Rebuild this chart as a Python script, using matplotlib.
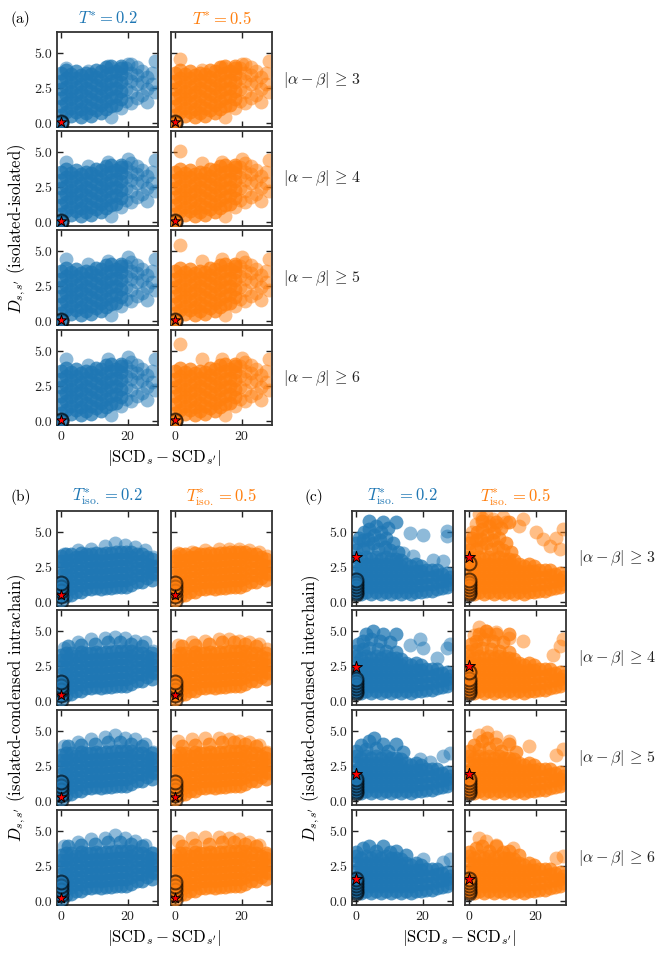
import matplotlib
matplotlib.use("Agg")
import matplotlib.pyplot as plt

plt.rcParams["font.family"] = "serif"
plt.rcParams["font.serif"] = ["cmr10", "DejaVu Serif"]
plt.rcParams["mathtext.fontset"] = "cm"
plt.rcParams["axes.formatter.use_mathtext"] = True

temps = ["0.2", "0.5"]
colors = ["#1f77b4", "#ff7f0e"]
thresholds = [3, 4, 5, 6]

# (a) isolated-isolated: bulk of the cloud, shared by all rows
a_x = [
    0, 0, 0, 0, 0, 0,
    1.5, 1.5, 1.5, 1.5, 1.5, 1.5,
    3, 3, 3, 3, 3, 3,
    4.5, 4.5, 4.5, 4.5, 4.5, 4.5,
    6, 6, 6, 6, 6, 6,
    7.5, 7.5, 7.5, 7.5, 7.5, 7.5,
    9, 9, 9, 9, 9, 9,
    10.5, 10.5, 10.5, 10.5, 10.5, 10.5,
    12, 12, 12, 12, 12, 12,
    13.5, 13.5, 13.5, 13.5, 13.5, 13.5,
    15, 15, 15, 15, 15, 15,
    16.5, 16.5, 16.5, 16.5, 16.5,
    18, 18, 18, 18, 18, 18,
]
a_y = [
    0.6, 1.2, 1.8, 2.4, 3.0, 3.6,
    0.8, 1.4, 2.0, 2.6, 3.2, 3.8,
    0.5, 1.1, 1.7, 2.3, 2.9, 3.5,
    0.8, 1.4, 2.0, 2.6, 3.2, 3.7,
    0.4, 1.0, 1.6, 2.2, 2.8, 3.4,
    0.7, 1.3, 1.9, 2.5, 3.1, 3.6,
    0.5, 1.1, 1.7, 2.3, 2.9, 3.5,
    0.9, 1.5, 2.1, 2.7, 3.3, 3.8,
    0.7, 1.3, 1.9, 2.5, 3.1, 3.7,
    1.0, 1.6, 2.2, 2.8, 3.4, 4.0,
    1.2, 1.8, 2.4, 3.0, 3.6, 4.1,
    1.3, 1.9, 2.5, 3.1, 3.7,
    1.7, 2.3, 2.9, 3.5, 4.1, 3.9,
]
# sparser right-hand part of the (a) cloud
a_sparse_x = [15, 18, 19.5, 19.5, 19.5, 19.5, 21, 21, 21, 21, 21,
              22.5, 22.5, 22.5, 22.5, 24, 24, 24, 25.5, 25.5, 25.5, 27, 27, 28, 28]
a_sparse_y = [0.4, 1.1, 1.6, 2.4, 3.2, 3.9, 1.4, 2.2, 3.0, 3.6, 4.2,
              1.8, 2.8, 3.4, 4.0, 2.0, 2.9, 3.7, 1.5, 2.4, 3.3, 2.8, 3.6, 4.4, 2.2]
# upper edge per row: [row][temp]
a_top_x = [1.5, 8, 14, 20]
a_top_y = [
    [[3.9, 3.7, 4.1, 4.2], [4.6, 3.8, 4.0, 4.2]],
    [[4.3, 4.0, 4.3, 4.5], [5.1, 4.2, 4.3, 4.5]],
    [[4.4, 4.1, 4.3, 4.6], [5.4, 4.3, 4.4, 4.6]],
    [[4.4, 4.0, 4.4, 4.6], [5.5, 4.4, 4.4, 4.5]],
]
a_same_y = [0.0, 0.1]
a_star_y = [0.05, 0.05, 0.05, 0.05]

# (b) isolated-condensed intrachain
b_x = [
    0, 0, 0, 0, 0, 0, 0,
    1.5, 1.5, 1.5, 1.5, 1.5, 1.5, 1.5,
    3, 3, 3, 3, 3, 3, 3,
    4.5, 4.5, 4.5, 4.5, 4.5, 4.5,
    6, 6, 6, 6, 6, 6, 6,
    7.5, 7.5, 7.5, 7.5, 7.5, 7.5,
    9, 9, 9, 9, 9, 9,
    10.5, 10.5, 10.5, 10.5, 10.5, 10.5,
    12, 12, 12, 12, 12, 12,
    13.5, 13.5, 13.5, 13.5, 13.5, 13.5,
    15, 15, 15, 15, 15, 15,
    16.5, 16.5, 16.5, 16.5, 16.5, 16.5,
    18, 18, 18, 18, 18, 18,
    19.5, 19.5, 19.5, 19.5, 19.5, 19.5,
    21, 21, 21, 21, 21, 21,
    22.5, 22.5, 22.5, 22.5, 22.5,
    24, 24, 24, 24, 24,
    25.5, 25.5, 25.5, 25.5,
    27, 27, 27, 27,
    28, 28,
]
b_y = [
    0.4, 0.9, 1.4, 1.9, 2.4, 2.9, 3.3,
    0.4, 0.9, 1.4, 1.9, 2.4, 2.9, 3.4,
    0.5, 1.0, 1.5, 2.0, 2.5, 3.0, 3.4,
    0.7, 1.2, 1.7, 2.2, 2.7, 3.2,
    0.7, 1.2, 1.7, 2.2, 2.7, 3.2, 3.5,
    0.9, 1.4, 1.9, 2.4, 2.9, 3.4,
    0.9, 1.4, 1.9, 2.4, 2.9, 3.4,
    1.0, 1.5, 2.0, 2.5, 3.0, 3.5,
    0.9, 1.4, 1.9, 2.4, 2.9, 3.4,
    1.0, 1.5, 2.0, 2.5, 3.0, 3.5,
    1.0, 1.5, 2.0, 2.5, 3.0, 3.5,
    1.1, 1.6, 2.1, 2.6, 3.1, 3.6,
    1.1, 1.6, 2.1, 2.6, 3.1, 3.6,
    1.1, 1.6, 2.1, 2.6, 3.1, 3.6,
    1.2, 1.7, 2.2, 2.7, 3.2, 3.6,
    1.4, 1.9, 2.4, 2.9, 3.4,
    1.4, 1.9, 2.4, 2.9, 3.4,
    1.7, 2.2, 2.7, 3.2,
    1.6, 2.1, 2.6, 3.1,
    2.0, 2.6,
]
b_mid_x = [2, 6, 10, 14, 17.5, 21, 24, 27]
b_mid_y = [3.9, 4.0, 4.1, 4.2, 4.2, 4.1, 3.9, 3.4]
b_top_x = [1, 5, 9, 13, 16, 19, 22, 25, 27.5]
b_top_y = [
    [[3.4, 3.7, 3.8, 4.0, 4.2, 4.1, 3.9, 3.7, 3.2], [3.5, 3.6, 3.7, 3.8, 3.8, 3.8, 3.7, 3.6, 3.3]],
    [[3.8, 4.2, 4.4, 4.5, 4.6, 4.5, 4.3, 4.2, 3.6], [4.0, 4.2, 4.3, 4.4, 4.4, 4.3, 4.2, 4.1, 3.7]],
    [[3.9, 4.2, 4.4, 4.6, 4.7, 4.5, 4.4, 4.1, 3.5], [4.3, 4.4, 4.5, 4.5, 4.4, 4.3, 4.2, 4.0, 3.5]],
    [[3.9, 4.2, 4.4, 4.5, 4.7, 4.5, 4.3, 4.0, 3.4], [4.3, 4.5, 4.6, 4.6, 4.5, 4.4, 4.2, 4.0, 3.3]],
]
b_same_y = [0.1, 0.45, 0.8, 1.1, 1.35]
b_star_y = [0.5, 0.4, 0.3, 0.25]

# (c) isolated-condensed interchain: lower main mass shared by all rows
c_x = [
    0, 0, 0, 0, 0, 0,
    1.5, 1.5, 1.5, 1.5, 1.5, 1.5,
    3, 3, 3, 3, 3, 3,
    4.5, 4.5, 4.5, 4.5, 4.5, 4.5,
    6, 6, 6, 6, 6, 6,
    7.5, 7.5, 7.5, 7.5, 7.5, 7.5,
    9, 9, 9, 9, 9, 9,
    10.5, 10.5, 10.5, 10.5, 10.5, 10.5,
    12, 12, 12, 12, 12, 12,
    13.5, 13.5, 13.5, 13.5, 13.5, 13.5,
    15, 15, 15, 15, 15,
    16.5, 16.5, 16.5, 16.5, 16.5,
    18, 18, 18, 18, 18,
    19.5, 19.5, 19.5, 19.5, 19.5,
    21, 21, 21, 21,
    22.5, 22.5, 22.5, 22.5,
    24, 24, 24, 24,
    25.5, 25.5, 25.5,
    27, 27, 27,
    28, 28,
]
c_y = [
    0.7, 1.2, 1.7, 2.2, 2.7, 3.2,
    0.6, 1.1, 1.6, 2.1, 2.6, 3.1,
    0.7, 1.2, 1.7, 2.2, 2.7, 3.2,
    0.6, 1.1, 1.6, 2.1, 2.6, 3.1,
    0.7, 1.2, 1.7, 2.2, 2.7, 3.2,
    0.6, 1.1, 1.6, 2.1, 2.6, 3.1,
    0.7, 1.2, 1.7, 2.2, 2.7, 3.2,
    0.6, 1.1, 1.6, 2.1, 2.6, 3.1,
    0.7, 1.2, 1.7, 2.2, 2.7, 3.1,
    0.6, 1.1, 1.6, 2.1, 2.6, 3.0,
    0.7, 1.2, 1.7, 2.2, 2.7,
    0.6, 1.1, 1.6, 2.1, 2.6,
    0.7, 1.2, 1.7, 2.2, 2.7,
    0.7, 1.2, 1.7, 2.2, 2.6,
    0.8, 1.3, 1.8, 2.3,
    0.8, 1.3, 1.8, 2.3,
    0.9, 1.4, 1.9, 2.3,
    1.0, 1.5, 2.0,
    1.1, 1.6, 2.1,
    1.3, 1.8,
]
# upper-left lobe per row (both temperatures)
c_lobe_x = [
    [0, 0, 1, 2, 2, 2.5, 3.5, 3.5, 4, 4, 5, 5.5, 6, 6.5, 7, 7.5, 8, 8.5, 9, 9.5, 10, 11, 12, 12.5],
    [0, 0.5, 2, 2, 3, 4, 4.5, 5, 6.5, 7, 8, 9, 10, 12, 12],
    [0, 1.5, 3, 4, 5.5, 6, 8, 9.5, 12, 14],
    [0, 2, 4, 6, 8, 10, 12, 15],
]
c_lobe_y = [
    [3.7, 4.2, 4.6, 3.8, 4.4, 5.0, 3.9, 4.5, 5.2, 5.8, 4.2, 4.8, 5.4, 3.8, 4.4, 5.0, 5.7, 3.9, 4.6, 5.3, 3.7, 4.2, 5.7, 3.6],
    [3.6, 4.1, 3.7, 4.3, 4.8, 3.8, 4.4, 5.0, 3.7, 4.3, 4.8, 3.6, 4.2, 4.8, 3.5],
    [3.6, 4.0, 3.7, 4.3, 4.5, 3.8, 4.1, 3.6, 4.1, 3.5],
    [3.5, 3.8, 3.9, 3.6, 3.9, 3.5, 3.6, 3.3],
]
# scattered high points per row and temperature
c_top_x = [
    [[16, 20, 27, 27, 14, 17, 23, 26],
     [3, 5, 7, 10, 11, 16, 15, 20, 22, 28, 26, 24, 27, 2, 4, 6, 8, 1]],
    [[16, 19, 20, 28, 27, 24], [3, 5, 8, 12, 16, 28, 27, 25, 1.5, 6]],
    [[28, 26, 19, 22], [3, 5.5, 8, 12, 18, 28, 26]],
    [[28, 26, 20], [3, 5, 8, 13, 28, 26]],
]
c_top_y = [
    [[4.9, 4.8, 5.1, 4.7, 3.5, 3.3, 3.0, 2.9],
     [6.3, 6.2, 5.9, 6.1, 5.7, 5.9, 5.4, 5.0, 4.5, 5.2, 4.6, 4.0, 3.8, 5.6, 6.0, 5.7, 5.5, 5.0]],
    [[4.0, 4.4, 3.8, 4.1, 3.8, 3.1], [5.3, 5.0, 4.9, 4.5, 4.3, 4.4, 3.9, 3.3, 4.7, 4.8]],
    [[3.4, 3.2, 3.0, 2.8], [4.7, 4.9, 4.6, 4.3, 3.9, 3.7, 3.3]],
    [[3.0, 2.8, 3.0], [4.5, 4.3, 4.0, 3.8, 3.2, 3.1]],
]
c_same_y = [0.55, 0.75, 0.95, 1.15, 1.35, 1.6]
c_same_extra = [[[], [2.8]], [[], [2.05]], [[], []], [[], []]]
c_star_y = [[3.2, 3.25], [2.4, 2.5], [1.9, 1.95], [1.55, 1.6]]

W, H = 665, 959
fig = plt.figure(figsize=(W / 100, H / 100), dpi=100)


def add_panel(left, top):
    w, h = 101, 95
    ax = fig.add_axes([left / W, 1 - (top + h) / H, w / W, h / H])
    ax.set_xlim(-1.2, 28.9)
    ax.set_ylim(-0.28, 6.5)
    ax.set_xticks([0, 20])
    ax.set_yticks([0, 2.5, 5.0])
    ax.set_yticklabels(["0.0", "2.5", "5.0"])
    ax.tick_params(direction="in", top=True, right=True, length=4, width=1,
                   labelsize=10, colors="#222222")
    for sp in ax.spines.values():
        sp.set_linewidth(1.3)
        sp.set_color("#333333")
    return ax


def draw_cloud(ax, xs, ys, color, dense=False):
    # dense parts of the cloud stand for many overlapping points
    ax.scatter(xs, ys, s=100, color=color, alpha=0.75 if dense else 0.5,
               linewidths=0, zorder=2)


def draw_same(ax, ys, star_y, color, star_size=80):
    ax.scatter([0] * len(ys), ys, s=100, color=color, alpha=0.6,
               edgecolors="black", linewidths=1.5, zorder=3)
    ax.scatter([0], [star_y], s=star_size, marker="*", color="red",
               edgecolors="black", linewidths=0.7, zorder=4)


col_a = [57, 171]
col_c = [352, 465]
rows_a = [32, 131, 230, 330]
rows_b = [511, 610, 710, 810]

for r in range(4):
    for t in range(2):
        # (a)
        ax = add_panel(col_a[t], rows_a[r])
        draw_cloud(ax, a_x, a_y, colors[t], dense=True)
        draw_cloud(ax, a_sparse_x, a_sparse_y, colors[t])
        draw_cloud(ax, a_top_x, a_top_y[r][t], colors[t])
        draw_same(ax, a_same_y, a_star_y[r], colors[t], star_size=60)
        if t == 1:
            ax.set_yticklabels([])
        if r < 3:
            ax.set_xticklabels([])

        # (b)
        ax = add_panel(col_a[t], rows_b[r])
        draw_cloud(ax, b_x, b_y, colors[t], dense=True)
        if r > 0:
            draw_cloud(ax, b_mid_x, b_mid_y, colors[t], dense=True)
        draw_cloud(ax, b_top_x, b_top_y[r][t], colors[t])
        draw_same(ax, b_same_y, b_star_y[r], colors[t], star_size=60)
        if t == 1:
            ax.set_yticklabels([])
        if r < 3:
            ax.set_xticklabels([])

        # (c)
        ax = add_panel(col_c[t], rows_b[r])
        draw_cloud(ax, c_x, c_y, colors[t], dense=True)
        draw_cloud(ax, c_lobe_x[r], c_lobe_y[r], colors[t], dense=True)
        draw_cloud(ax, c_top_x[r][t], c_top_y[r][t], colors[t])
        draw_same(ax, c_same_y + c_same_extra[r][t], c_star_y[r][t], colors[t])
        if t == 1:
            ax.set_yticklabels([])
        if r < 3:
            ax.set_xticklabels([])


def ftext(px, py, s, **kw):
    fig.text(px / W, 1 - py / H, s, **kw)


# panel letters
ftext(10, 19, "(a)", fontsize=11, va="center")
ftext(10, 497, "(b)", fontsize=11, va="center")
ftext(305, 497, "(c)", fontsize=11, va="center")

# column titles
for t in range(2):
    cx = col_a[t] + 50.5
    ftext(cx, 18, r"$T^{*} = %s$" % temps[t], fontsize=12, color=colors[t],
          ha="center", va="center")
    ftext(cx, 497, r"$T^{*}_{\mathrm{iso.}} = %s$" % temps[t], fontsize=12,
          color=colors[t], ha="center", va="center")
    cx = col_c[t] + 50.5
    ftext(cx, 497, r"$T^{*}_{\mathrm{iso.}} = %s$" % temps[t], fontsize=12,
          color=colors[t], ha="center", va="center")

# row labels
for r in range(4):
    lab = r"$|\alpha - \beta|\, \geq\, %d$" % thresholds[r]
    ftext(283, rows_a[r] + 47.5, lab, fontsize=11.5, va="center", color="#222222")
    ftext(578, rows_b[r] + 47.5, lab, fontsize=11.5, va="center", color="#222222")

# axis labels
xlab = r"$|\mathrm{SCD}_s - \mathrm{SCD}_{s'}|$"
ftext(164.5, 458, xlab, fontsize=12, ha="center", va="center")
ftext(164.5, 938, xlab, fontsize=12, ha="center", va="center")
ftext(459.5, 938, xlab, fontsize=12, ha="center", va="center")
ftext(17, 229, r"$D_{s,s'}$ (isolated-isolated)", fontsize=12, rotation=90,
      ha="center", va="center")
ftext(17, 708, r"$D_{s,s'}$ (isolated-condensed intrachain)", fontsize=12,
      rotation=90, ha="center", va="center")
ftext(311, 708, r"$D_{s,s'}$ (isolated-condensed interchain)", fontsize=12,
      rotation=90, ha="center", va="center")

fig.savefig("out.png", dpi=100)
